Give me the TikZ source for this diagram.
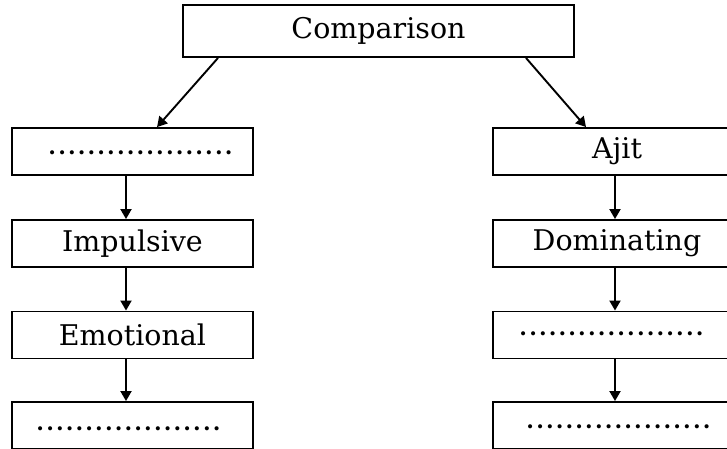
\documentclass[tikz,border=0pt]{standalone}
\usepackage{fontspec}
\setmainfont{DejaVu Serif}
\usetikzlibrary{arrows.meta}
\newcommand\dotrow{\foreach \i in {1,...,19}{\hbox to 9.8pt{\hss\bfseries.\hss}}}
\begin{document}
\begin{tikzpicture}[x=1pt,y=-1pt,
  box/.style={draw, line width=1.9pt, inner sep=0pt, font=\fontsize{28.5}{32}\selectfont},
  lbox/.style={box, minimum width=241pt, minimum height=47pt},
  rbox/.style={box, minimum width=248pt, minimum height=47pt},
  dots/.style={inner sep=0pt, font=\fontsize{22}{26}\selectfont},
  arr/.style={line width=1.9pt, -{Triangle[length=10pt,width=11pt]}}]
\useasboundingbox (0,0) rectangle (727,448);
\node[box, minimum width=391pt, minimum height=52pt] (top) at (378.5,31) {Comparison};
\node[lbox] (l1) at (132.5,151.5) {};
\node[dots] (l1d) at (140.5,153) {\dotrow};
\node[lbox] (l2) at (132.5,243.5) {Impulsive};
\node[lbox] (l3) at (132.5,335) {Emotional};
\node[lbox] (l4) at (132.5,425.5) {};
\node[dots] (l4d) at (128.5,429) {\dotrow};
\node[rbox] (r1) at (617,151.5) {Ajit};
\node[rbox] (r2) at (617,243.5) {Dominating};
\node[rbox] (r3) at (617,335) {};
\node[dots] (r3d) at (611.5,334) {\dotrow};
\node[rbox] (r4) at (617,425.5) {};
\node[dots] (r4d) at (618.5,427) {\dotrow};
\draw[arr] ([xshift=-160.5pt]top.south) -- ([xshift=24.5pt]l1.north);
\draw[arr] ([xshift=147.5pt]top.south) -- ([xshift=-31pt]r1.north);
\foreach \a/\b in {l1/l2,l2/l3,l3/l4}
  \draw[arr] ([xshift=-6.5pt]\a.south) -- ([xshift=-6.5pt]\b.north);
\foreach \a/\b in {r1/r2,r2/r3,r3/r4}
  \draw[arr] ([xshift=-2pt]\a.south) -- ([xshift=-2pt]\b.north);
\end{tikzpicture}
\end{document}
